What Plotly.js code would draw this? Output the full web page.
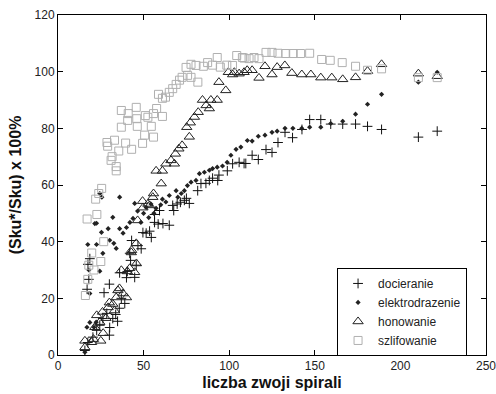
<!DOCTYPE html>
<html>
<head>
<meta charset="utf-8">
<script src="https://cdn.plot.ly/plotly-3.0.1.min.js"></script>
<style>html,body{margin:0;padding:0;background:#fff;}#chart{width:496px;height:394px;}</style>
</head>
<body>
<div id="chart"></div>
<script>
// docieranie (plus)
const docX = [15.7,17.4,20.4,22.6,24.4,26.2,28.5,30.2,30,32,33.7,37,39,35.8,34.8,17,26.9,30,17.5,18.6,18,36,40,40.5,42.4,44.8,45.7,41.9,43,46.7,48.6,49.6,51.5,53.5,54.5,56.4,58.5,61.3,65,56.4,59.3,67,69.6,67.6,71.5,73.8,75,76.7,81.6,83.5,86.4,88.4,90.3,93.3,94,98.9,102,105.8,109.7,108.7,113.4,117,121.5,125,128.5,132.6,137,142.5,147,153.5,159.3,166.3,173.8,180.8,189,210.5,221.5];
const docY = [1.6,4.4,6.3,8.7,10.5,12.9,14.7,9.7,7,12.9,14.3,20,18.2,16.5,11.9,23.2,22,25,32,34,26.7,29,27.3,29.5,33.4,27.4,31.7,35.9,40.4,38.6,37.5,43.2,43,43.7,41.5,46.8,46.2,46.4,45.8,49.6,51,52.8,53.3,51,53.9,54.6,55.3,53.5,58,60.5,60.6,61.6,62.4,61.6,63.5,65,67.5,68,67.6,67.6,70.5,69,72.5,71.5,75,78.6,76.7,79.6,83.1,83.1,81.5,81.5,81.5,80.7,79.6,76.9,79];

// elektrodrazenie (small diamonds)
const eleX = [15.7,16.9,18.6,21,22.3,18.6,17.4,22.5,18,24.4,22.5,25.4,26.2,29.3,30.2,32,32.6,34,36,36,38,40,42,43.8,44.8,46.5,48.4,50,51.5,53,54.3,56,57.3,60,61,63,24.4,25.6,21.5,65,69,70,72,73.8,75.6,77.7,80.6,82.6,85.5,88.4,90.3,93,96.1,98.8,101,104,106.8,110.6,113.4,117,120.9,125,128,132.6,137.2,142.4,147,153.5,159.3,166.3,173.8,180.8,189,210.5,221.5];
const eleY = [1,9.8,11.5,9.8,11.6,21.7,39,39,30,29.6,46.5,43.3,35.9,44.6,40.5,48.6,39.4,37.6,55.7,44.6,43,45,46.8,48.2,53.5,50.8,46.8,50,52.1,48.5,53.3,50,51.8,53,55,54,57,55.7,46.4,56.3,58,55.7,57,58,59.8,61,61.6,64,64.5,65.2,65.8,66.3,66.7,68,70.5,72.6,73.4,75.7,75.5,77.2,77.6,78.6,79,80,80,80,80.4,80.4,81.7,82.5,85,88.5,92,96.3,99.8];

// honowanie (open triangles)
const honX = [15.7,15.7,19.6,20.7,25,21.5,24.4,26.4,22.6,26,28,29.3,30,32,33,34,35,35.9,38,40,37,40.5,41.9,44.8,45.8,42.8,43,45.7,46.5,49.4,49.6,52.5,53.5,55.4,55.8,57.3,60.3,61,63,66,68,68.6,70.6,72.5,75.2,76.7,77.3,79.7,81.9,84.4,86.5,88.4,89.3,93,94,98,99.5,102,103,105.8,108.7,110.5,113.4,117.4,120.9,125,128,132.5,136.6,142.4,147.7,153.5,159.9,166.3,173.8,180.8,189,210.5,221.5];
const honY = [5,2.7,4.5,5.6,5,9.8,11.6,7.7,14,15.2,13,16.8,18.5,18,15.7,20.3,22.8,23.5,21.7,20.3,29.9,29.5,30.6,29.2,32.3,36.2,37,39.4,47.5,54.3,52,53.3,52.8,55.7,57,65,60.5,65,67.5,68.7,67.5,71,72.8,74,80.4,77,82,84,85.7,90,88.1,87,90,90,96.3,93.4,99.8,99,99.8,99.3,99.8,100.5,100.5,97.8,101.9,99,101.6,102.2,99.5,99,99,97.9,97.9,97.3,98,100.2,102.6,99.3,98.4];

// szlifowanie (open squares)
const szlX = [16,17.4,18,21,25,19.7,17,22.7,26.7,22,25.5,23.8,34,34,31,31.6,29,28.6,33,39.5,43,35.5,37,41,45.7,40.7,37,46.3,50.6,49.4,55.8,54.5,52.5,57.6,51,61,55.8,46,58.7,61,62.8,65,67,69,71,72.5,75.7,77.7,81.7,74.8,77.7,80.6,84.9,87.4,90.3,93,94.8,98.6,101.9,104.4,107.7,108.7,111.6,114.5,117.4,121.5,125,128.5,133,137.4,141.7,147,154,159,166,173.8,180.8,189,210.5,221.5];
const szlY = [21,26.7,31.7,30,33,36,48,49.6,40,55,58.8,57,65,66.5,68.7,70,73.7,75,75.8,74.8,72.6,72,86.3,85.2,87.4,82.8,80.4,80.7,77.6,74.7,76.9,80.7,83.9,87,84.5,84.2,85.2,83.4,92,90.6,91,92.7,94,95.5,97,98,98.7,98,96.3,101.5,102.6,102.2,101.9,103.2,102.3,105,101.6,102.3,102.2,105.7,105,104.8,104.6,105,104.6,106.8,106.8,106.5,106.4,106.4,106.4,106.5,104.3,104,103.2,101.9,100.5,101,97.9,97.9];

const names = ['docieranie','elektrodrazenie','honowanie','szlifowanie'];
const xTicks = [0,50,100,150,200,250];
const yTicks = [0,20,40,60,80,100,120];

const traces = [
  {x: docX, y: docY, name: names[0], type:'scatter', mode:'markers',
   marker:{symbol:'cross-thin-open', size:7, color:'#111', line:{color:'#111', width:1}}},
  {x: eleX, y: eleY, name: names[1], type:'scatter', mode:'markers',
   marker:{symbol:'diamond', size:4, color:'#222', line:{width:0}}},
  {x: honX, y: honY, name: names[2], type:'scatter', mode:'markers',
   marker:{symbol:'triangle-up-open', size:9, color:'#222', line:{color:'#222', width:1}}},
  {x: szlX, y: szlY, name: names[3], type:'scatter', mode:'markers',
   marker:{symbol:'square-open', size:8, color:'#b0b0b0', line:{color:'#b0b0b0', width:1}}}
];

const axisCommon = {
  showgrid:false, zeroline:false, showline:true, linecolor:'#000', linewidth:1,
  mirror:'ticks', ticks:'inside', ticklen:5, tickcolor:'#000',
  ticklabeloverflow:'allow',
  tickfont:{family:'Arial, Liberation Sans, sans-serif', size:12, color:'#222'}
};

const layout = {
  width:496, height:394,
  margin:{l:58, r:10, t:15, b:39},
  paper_bgcolor:'#fff', plot_bgcolor:'#fff',
  font:{family:'Arial, Liberation Sans, sans-serif', color:'#222'},
  xaxis: Object.assign({}, axisCommon, {
    range:[0,250], tickvals:xTicks, ticktext:xTicks.map(String),
    title:{text:'liczba zwoji spirali', font:{size:16, weight:'bold', color:'#111'}, standoff:4}
  }),
  yaxis: Object.assign({}, axisCommon, {
    range:[0,120], tickvals:yTicks, ticktext:yTicks.map(String),
    title:{text:'(Sku*/Sku) x 100%', font:{size:16, weight:'bold', color:'#111'}, standoff:8}
  }),
  showlegend:true,
  legend:{x:0.652, y:0.256, xanchor:'left', yanchor:'top',
    bgcolor:'#fff', bordercolor:'#000', borderwidth:1,
    font:{family:'Arial, Liberation Sans, sans-serif', size:12, color:'#222'},
    tracegroupgap:0}
};

Plotly.newPlot('chart', traces, layout, {displayModeBar:false, staticPlot:true});
</script>
</body>
</html>
